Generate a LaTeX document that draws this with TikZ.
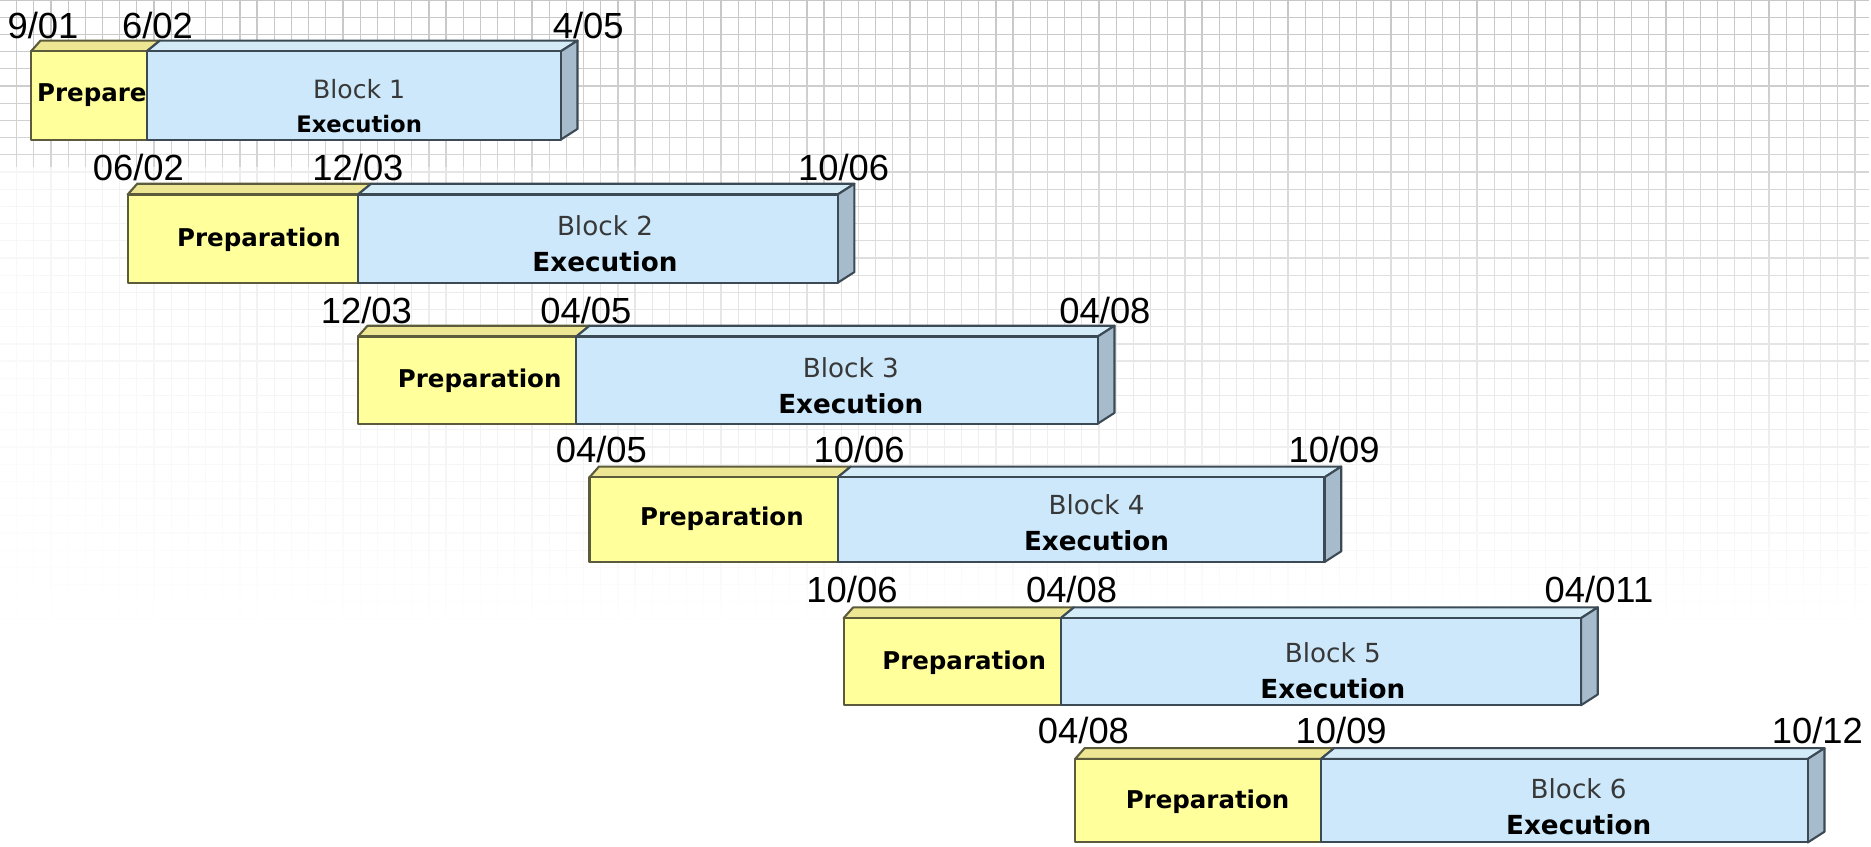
\documentclass[tikz,border=0pt]{standalone}
\usepackage{fontspec}
\setmainfont{Liberation Sans}
\newfontfamily\barfont{DejaVu Sans}
\usetikzlibrary{fadings}

\definecolor{prepfront}{HTML}{FFFF9C}
\definecolor{preptop}{HTML}{EDE692}
\definecolor{prepline}{HTML}{5C5C3C}
\definecolor{execfront}{HTML}{CCE8FA}
\definecolor{exectop}{HTML}{D4EBF8}
\definecolor{execside}{HTML}{A6BCCC}
\definecolor{execline}{HTML}{3C4A55}

\tikzfading[name=gridfade, top color=transparent!0, bottom color=transparent!100]
\tikzfading[name=leftfade, left color=transparent!0, right color=transparent!100]

\tikzset{
	gridline/.style={line width=0.35pt, color=black!22},
	prepface/.style={fill=prepfront, draw=prepline, line width=0.6pt, line join=round},
	preplid/.style={fill=preptop, draw=prepline, line width=0.6pt, line join=round},
	execface/.style={fill=execfront, draw=execline, line width=0.6pt, line join=round},
	execlid/.style={fill=exectop, draw=execline, line width=0.6pt, line join=round},
	execend/.style={fill=execside, draw=execline, line width=0.6pt, line join=round},
	datelbl/.style={font=\fontsize{10.4}{12}\selectfont, inner sep=0pt},
	preptxt/.style={font=\barfont\bfseries\fontsize{7}{8}\selectfont, inner sep=0pt},
	exectxt/.style={font=\barfont\fontsize{7.5}{10.2}\selectfont, align=center, inner sep=0pt, text=black!78}
}

% bar: (left, split, right, top, bottom)
\def\phasebar(#1,#2,#3,#4,#5){%
	\draw[preplid] (#1,#4) -- (#1+8,#4-9) -- (#2+11,#4-9) -- (#2,#4) -- cycle;
	\draw[execlid] (#2,#4) -- (#2+11,#4-9) -- (#3+14,#4-9) -- (#3,#4) -- cycle;
	\draw[execend] (#3,#4) -- (#3+14,#4-9) -- (#3+14,#5-9) -- (#3,#5) -- cycle;
	\draw[prepface] (#1,#4) rectangle (#2,#5);
	\draw[execface] (#2,#4) rectangle (#3,#5);
}

\begin{document}
\begin{tikzpicture}[x=0.012cm, y=-0.012cm]
	%%%%% START %%%%%
	
	\fill[white] (0,0) rectangle (1568,709);
	\useasboundingbox (0,0) rectangle (1568,709);
	
	% faded grid paper
	\draw[gridline, path fading=gridfade] (0,520) grid[step=0.1728cm] (1568,0);
	\fill[white, path fading=leftfade, opacity=0.8] (0,140) rectangle (700,520);
	
	% block 1
	\phasebar(26,123,470,43,117)
	\node[preptxt] (prep1) at (77,80) {Prepare};
	\node[exectxt, font=\barfont\fontsize{7.2}{9.6}\selectfont] (exec1) at (301,89) {Block 1\\{\color{black}\bfseries\fontsize{6.5}{9.6}\selectfont Execution}};
	\node[datelbl] (d1a) at (36,21) {9/01};
	\node[datelbl] (d1b) at (132,21) {6/02};
	\node[datelbl] (d1c) at (493,21) {4/05};
	
	% block 2
	\phasebar(107,300,702,163,237)
	\node[preptxt] (prep2) at (217,201) {Preparation};
	\node[exectxt] (exec2) at (507,204) {Block 2\\{\color{black}\bfseries Execution}};
	\node[datelbl] (d2a) at (116,140) {06/02};
	\node[datelbl] (d2b) at (300,140) {12/03};
	\node[datelbl] (d2c) at (707,140) {10/06};
	
	% block 3
	\phasebar(300,483,920,282,355)
	\node[preptxt] (prep3) at (402,319) {Preparation};
	\node[exectxt] (exec3) at (713,323) {Block 3\\{\color{black}\bfseries Execution}};
	\node[datelbl] (d3a) at (307,260) {12/03};
	\node[datelbl] (d3b) at (491,260) {04/05};
	\node[datelbl] (d3c) at (926,260) {04/08};
	
	% block 4
	\phasebar(494,702,1110,400,471)
	\node[preptxt] (prep4) at (605,435) {Preparation};
	\node[exectxt] (exec4) at (919,438) {Block 4\\{\color{black}\bfseries Execution}};
	\node[datelbl] (d4a) at (504,377) {04/05};
	\node[datelbl] (d4b) at (720,377) {10/06};
	\node[datelbl] (d4c) at (1118,377) {10/09};
	
	% block 5
	\phasebar(707,889,1325,518,591)
	\node[preptxt] (prep5) at (808,555) {Preparation};
	\node[exectxt] (exec5) at (1117,562) {Block 5\\{\color{black}\bfseries Execution}};
	\node[datelbl] (d5a) at (714,494) {10/06};
	\node[datelbl] (d5b) at (898,494) {04/08};
	\node[datelbl] (d5c) at (1340,494) {04/011};
	
	% block 6
	\phasebar(901,1107,1515,636,706)
	\node[preptxt] (prep6) at (1012,672) {Preparation};
	\node[exectxt] (exec6) at (1323,676) {Block 6\\{\color{black}\bfseries Execution}};
	\node[datelbl] (d6a) at (908,612) {04/08};
	\node[datelbl] (d6b) at (1124,612) {10/09};
	\node[datelbl] (d6c) at (1523,612) {10/12};
	
	%%%%% END %%%%%
\end{tikzpicture}
\end{document}
